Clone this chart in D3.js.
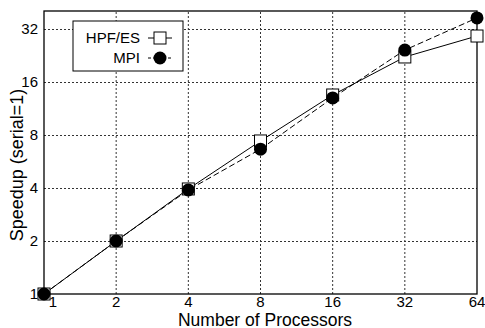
<!DOCTYPE html>
<html>
<head>
<meta charset="utf-8">
<script src="https://cdn.jsdelivr.net/npm/d3@7"></script>
<style>
body { margin: 0; background: #fff; }
text { font-family: "Liberation Sans", Arial, sans-serif; }
</style>
</head>
<body>
<script>
// data
var procs = [1, 2, 4, 8, 16, 32, 64];
var hpfes = [1, 2, 3.95, 7.4, 13.5, 22.2, 29.2];
var mpi = [1, 2, 3.9, 6.65, 13.0, 24.3, 37];
var yTicks = [1, 2, 4, 8, 16, 32];

var width = 485, height = 328;
var m = {left: 44, right: 8, top: 11, bottom: 34};

var svg = d3.select("body").append("svg")
  .attr("width", width)
  .attr("height", height);

var x = d3.scaleLog().base(2).domain([1, 64]).range([m.left, width - m.right]);
var y = d3.scaleLog().base(2).domain([1, 40.5]).range([height - m.bottom, m.top]);

// grid
svg.selectAll("line.gx")
  .data(procs.slice(1, -1)).enter().append("line")
  .attr("x1", function(d) { return x(d); })
  .attr("x2", function(d) { return x(d); })
  .attr("y1", y.range()[0]).attr("y2", y.range()[1])
  .attr("stroke", "#333").attr("stroke-width", 1)
  .attr("stroke-dasharray", "2,2");
svg.selectAll("line.gy")
  .data(yTicks.slice(1)).enter().append("line")
  .attr("x1", x.range()[0]).attr("x2", x.range()[1])
  .attr("y1", function(d) { return Math.round(y(d)) + 0.5; })
  .attr("y2", function(d) { return Math.round(y(d)) + 0.5; })
  .attr("stroke", "#333").attr("stroke-width", 1)
  .attr("stroke-dasharray", "2,2");

// frame
svg.append("rect")
  .attr("x", x.range()[0]).attr("y", y.range()[1])
  .attr("width", x.range()[1] - x.range()[0])
  .attr("height", y.range()[0] - y.range()[1])
  .attr("fill", "none").attr("stroke", "#000").attr("stroke-width", 1.3);

// tick labels
svg.selectAll("text.xt")
  .data(procs).enter().append("text")
  .attr("x", function(d) { return x(d) + (d == 1 ? 9 : 0); })
  .attr("y", height - m.bottom + 12.5)
  .attr("text-anchor", "middle")
  .attr("font-size", 15)
  .text(function(d) { return d; });
svg.selectAll("text.yt")
  .data(yTicks).enter().append("text")
  .attr("x", x.range()[0] - 6)
  .attr("y", function(d) { return y(d) + 5; })
  .attr("text-anchor", "end")
  .attr("font-size", 15)
  .text(function(d) { return d; });

// axis titles
svg.append("text")
  .attr("x", 265)
  .attr("y", height - 2.5)
  .attr("text-anchor", "middle")
  .attr("font-size", 17.5)
  .text("Number of Processors");
svg.append("text")
  .attr("transform", "translate(23,165) rotate(-90)")
  .attr("text-anchor", "middle")
  .attr("font-size", 18)
  .text("Speedup (serial=1)");

// lines
var line = d3.line()
  .x(function(d, i) { return x(procs[i]); })
  .y(function(d) { return y(d); });
svg.append("path").datum(hpfes)
  .attr("d", line).attr("fill", "none")
  .attr("stroke", "#000").attr("stroke-width", 1);
svg.append("path").datum(mpi)
  .attr("d", line).attr("fill", "none")
  .attr("stroke", "#000").attr("stroke-width", 1)
  .attr("stroke-dasharray", "6,3");

// markers
var sq = 12;
svg.selectAll("rect.hpf")
  .data(hpfes).enter().append("rect")
  .attr("x", function(d, i) { return x(procs[i]) - sq / 2; })
  .attr("y", function(d) { return y(d) - sq / 2; })
  .attr("width", sq).attr("height", sq)
  .attr("fill", "#fff").attr("stroke", "#000").attr("stroke-width", 1);
svg.selectAll("circle.mpi")
  .data(mpi).enter().append("circle")
  .attr("cx", function(d, i) { return x(procs[i]); })
  .attr("cy", function(d) { return y(d); })
  .attr("r", 6.5)
  .attr("fill", "#000");

// legend
var lg = svg.append("g").attr("transform", "translate(73,21)");
lg.append("rect")
  .attr("width", 110).attr("height", 50)
  .attr("fill", "#fff").attr("stroke", "#000").attr("stroke-width", 1);
lg.append("text").attr("x", 67).attr("y", 22).attr("text-anchor", "end")
  .attr("font-size", 15).text("HPF/ES");
lg.append("text").attr("x", 67).attr("y", 42).attr("text-anchor", "end")
  .attr("font-size", 15).text("MPI");
lg.append("line").attr("x1", 75).attr("x2", 99).attr("y1", 17).attr("y2", 17)
  .attr("stroke", "#000");
lg.append("rect").attr("x", 81).attr("y", 11).attr("width", 12).attr("height", 12)
  .attr("fill", "#fff").attr("stroke", "#000");
lg.append("line").attr("x1", 75).attr("x2", 99).attr("y1", 37).attr("y2", 37)
  .attr("stroke", "#000").attr("stroke-dasharray", "3,2");
lg.append("circle").attr("cx", 87).attr("cy", 37).attr("r", 6.5).attr("fill", "#000");
</script>
</body>
</html>
